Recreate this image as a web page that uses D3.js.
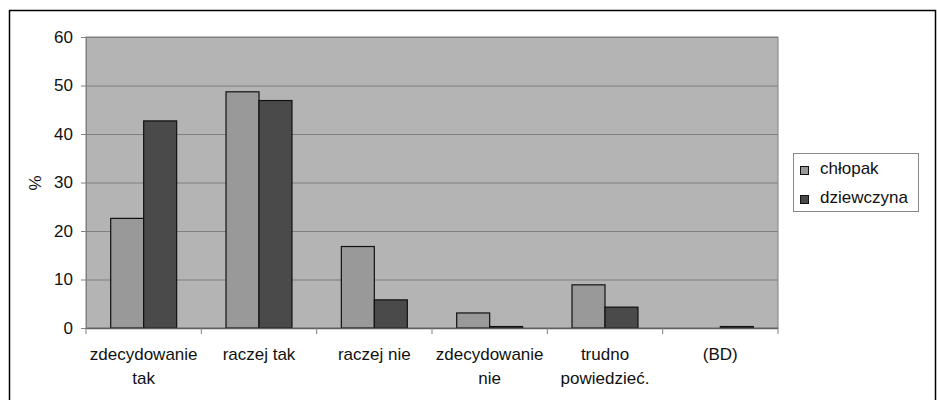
<!DOCTYPE html>
<html><head><meta charset="utf-8">
<script src="https://cdn.jsdelivr.net/npm/d3@7"></script>
<style>body{margin:0;background:#fff}svg{display:block}</style>
</head><body>
<svg id="c" width="937" height="400"></svg>
<script>
const categories = [["zdecydowanie","tak"],["raczej tak"],["raczej nie"],["zdecydowanie","nie"],["trudno","powiedzieć."],["(BD)"]];
const seriesNames = ["chłopak","dziewczyna"];
const chlopak = [22.6, 48.7, 16.8, 3.1, 8.9, 0];
const dziewczyna = [42.7, 46.9, 5.8, 0.3, 4.3, 0.3];
const yTicks = [0,10,20,30,40,50,60];
const colors = ["#999999","#4a4a4a"];

const svg = d3.select("#c");
const font = "Liberation Sans, Arial, sans-serif";
const fs = 17;
svg.append("rect").attr("x",9.5).attr("y",10.5).attr("width",926).attr("height",400).attr("fill","#fff").attr("stroke","#000").attr("stroke-width",1.5);

const L=86,T=37,R=778,B=328;
const keys = categories.map((d,i)=>i);
const x0 = d3.scaleBand().domain(keys).range([L,R]).paddingInner(0.428).paddingOuter(0.214);
const x1 = d3.scaleBand().domain([0,1]).range([0,x0.bandwidth()]);
const y = d3.scaleLinear().domain([0,60]).range([B,T]);

svg.append("rect").attr("x",L).attr("y",T).attr("width",R-L).attr("height",B-T).attr("fill","#b4b4b4").attr("stroke","#808080");
svg.append("g").selectAll("line").data(yTicks.slice(1)).join("line")
  .attr("x1",L).attr("x2",R).attr("y1",d=>y(d)+0.5).attr("y2",d=>y(d)+0.5).attr("stroke","#7f7f7f");

const data = [chlopak,dziewczyna];
data.forEach((s,si)=>{
  svg.append("g").selectAll("rect").data(s).join("rect")
    .attr("x",(d,i)=>x0(i)+x1(si)).attr("width",x1.bandwidth())
    .attr("y",d=>y(d)).attr("height",d=>y(0)-y(d))
    .attr("fill",colors[si]).attr("stroke","#111").attr("stroke-width",1.2)
    .attr("display",d=>d>0?null:"none");
});

// y axis
const ya = svg.append("g").attr("transform",`translate(${L},0)`)
  .call(d3.axisLeft(y).tickValues(yTicks).tickSize(5).tickPadding(8));
ya.select(".domain").attr("stroke","#808080");
ya.selectAll(".tick line").attr("stroke","#808080");
ya.selectAll("text").attr("font-family",font).attr("font-size",fs).attr("fill","#111");

// x axis
const xa = svg.append("g").attr("transform",`translate(0,${B})`);
xa.append("line").attr("x1",L).attr("x2",R).attr("y1",0.5).attr("y2",0.5).attr("stroke","#606060").attr("stroke-width",1.5);
const step = x0.step();
const bounds = keys.map(i=>x0(i)-x0.paddingInner()*step/2).concat([R]);
xa.selectAll("line.t").data(bounds).join("line").attr("class","t")
  .attr("x1",d=>d).attr("x2",d=>d).attr("y1",0).attr("y2",6).attr("stroke","#808080");
const lab = xa.selectAll("text").data(categories).join("text")
  .attr("x",(d,i)=>x0(i)+x0.bandwidth()/2).attr("y",32)
  .attr("text-anchor","middle").attr("font-family",font).attr("font-size",fs).attr("fill","#111");
lab.selectAll("tspan").data(d=>d).join("tspan").attr("x",function(){return this.parentNode.getAttribute("x");})
  .attr("dy",(d,i)=>i?24:0).text(d=>d);

svg.append("text").attr("transform","translate(41,183) rotate(-90)").attr("text-anchor","middle")
  .attr("font-family",font).attr("font-size",fs).attr("fill","#111").text("%");

// legend
const lg = svg.append("g");
lg.append("rect").attr("x",793.5).attr("y",153.5).attr("width",125).attr("height",58).attr("fill","#fff").attr("stroke","#888");
seriesNames.forEach((n,i)=>{
  lg.append("rect").attr("x",800.5).attr("y",166.5+i*29).attr("width",8).attr("height",8).attr("fill",colors[i]).attr("stroke","#111");
  lg.append("text").attr("x",820).attr("y",174+i*29).attr("font-family",font).attr("font-size",fs).attr("fill","#111").text(n);
});
</script>
</body></html>
